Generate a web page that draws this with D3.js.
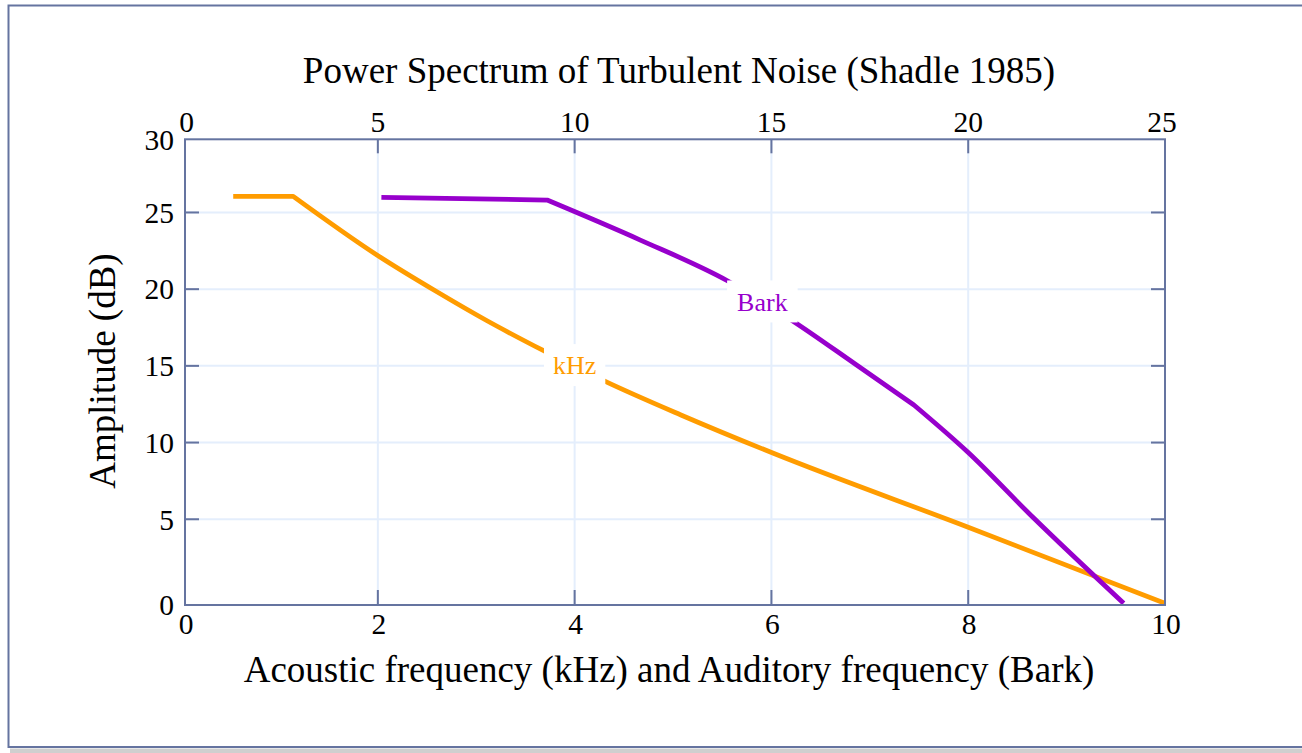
<!DOCTYPE html>
<html><head><meta charset="utf-8">
<script src="https://cdn.jsdelivr.net/npm/d3@7"></script>
<style>
body{margin:0;background:#fff}
svg{display:block}
text{font-family:"Liberation Serif","Times New Roman",serif;fill:#000}
</style>
</head><body>
<svg id="c" width="1302" height="753"></svg>
<script>
// ---- data ----
const kHzFreq = [0.53, 1.14, 1.99, 2.60, 3.11, 3.69, 4.30, 5.08, 6.02, 8.00, 10.0];
const kHzAmp  = [26.05, 26.05, 22.23, 19.83, 17.94, 15.97, 14.02, 11.80, 9.30, 4.48, -0.48];
const barkFreq = [5.09, 9.30, 11.67, 13.88, 15.57, 17.10, 18.62, 19.98, 21.67, 23.95];
const barkAmp  = [25.99, 25.81, 23.20, 20.55, 17.88, 15.17, 12.45, 9.40, 5.06, -0.48];
const bottomTicks = [0, 2, 4, 6, 8, 10];
const topTicks = [0, 5, 10, 15, 20, 25];
const yTicks = [0, 5, 10, 15, 20, 25, 30];
const seriesNames = ["kHz", "Bark"];
const labelPosKHz = [4.0, 15.05];
const labelPosBark = [14.77, 19.2];
const titleText = "Power Spectrum of Turbulent Noise (Shadle 1985)";
const xTitle = "Acoustic frequency (kHz) and Auditory frequency (Bark)";
const yTitle = "Amplitude (dB)";

// ---- layout ----
const L = 185, R = 1165, T = 139.3, B = 605;
const frameColor = "#6574a0", gridColor = "#e4eefc";
const orange = "#ff9c00", purple = "#9700cc";

const svg = d3.select("#c");
const x = d3.scaleLinear().domain([0.04, 10]).range([L, R]).clamp(true);
const xb = d3.scaleLinear().domain([0.1, 25]).range([L, R]).clamp(true);
const y = d3.scaleLinear().domain([-0.59, 29.77]).range([B, T]).clamp(true);

// outer panel
svg.append("rect").attr("x", 10).attr("y", 748.5).attr("width", 1302).attr("height", 6).attr("fill", "#cfcfcf");
svg.append("rect").attr("x", 8.5).attr("y", 5.5).attr("width", 1310).attr("height", 741.5)
  .attr("fill", "#fff").attr("stroke", frameColor).attr("stroke-width", 2);

// gridlines
const g = svg.append("g");
g.selectAll(".vg").data(bottomTicks.slice(1, -1)).enter().append("line")
  .attr("x1", d => x(d)).attr("x2", d => x(d)).attr("y1", T).attr("y2", B)
  .attr("stroke", gridColor).attr("stroke-width", 2);
g.selectAll(".hg").data(yTicks.slice(1, -1)).enter().append("line")
  .attr("y1", d => y(d)).attr("y2", d => y(d)).attr("x1", L).attr("x2", R)
  .attr("stroke", gridColor).attr("stroke-width", 2);

// clip
svg.append("clipPath").attr("id", "pc").append("rect")
  .attr("x", L).attr("y", T).attr("width", R - L).attr("height", B - T);

const lin = d3.line().x(d => d[0]).y(d => d[1]);
const smooth = d3.line().x(d => d[0]).y(d => d[1]).curve(d3.curveMonotoneX);
const kPts = kHzFreq.map((f, i) => [x(f), y(kHzAmp[i])]);
const bPts = barkFreq.map((f, i) => [xb(f), y(barkAmp[i])]);
const plot = svg.append("g").attr("clip-path", "url(#pc)");
// sharp knees, smooth segments between them
plot.append("path").attr("d", lin(kPts.slice(0, 2)) + smooth(kPts.slice(1)).replace(/^M/, "L"))
  .attr("fill", "none").attr("stroke", orange).attr("stroke-width", 4.8).attr("stroke-linejoin", "round");
plot.append("path").attr("d", lin(bPts.slice(0, 2)) + smooth(bPts.slice(1, 7)).replace(/^M/, "L") + smooth(bPts.slice(6)).replace(/^M/, "L"))
  .attr("fill", "none").attr("stroke", purple).attr("stroke-width", 4.8).attr("stroke-linejoin", "round");

// in-plot labels
function tag(px, py, txt, col, padX) {
  const t = svg.append("text").attr("x", px).attr("y", py).attr("dy", "0.35em")
    .attr("text-anchor", "middle").style("font-size", "26px").style("fill", col).text(txt);
  const bb = t.node().getBBox();
  svg.insert("rect", () => t.node())
    .attr("x", bb.x - padX).attr("y", py - 21).attr("width", bb.width + 2 * padX).attr("height", 42)
    .attr("fill", "#fff");
}
tag(x(labelPosKHz[0]), y(labelPosKHz[1]), seriesNames[0], orange, 9);
tag(xb(labelPosBark[0]), y(labelPosBark[1]), seriesNames[1], purple, 10);

// frame
svg.append("rect").attr("x", L).attr("y", T).attr("width", R - L).attr("height", B - T)
  .attr("fill", "none").attr("stroke", frameColor).attr("stroke-width", 2);

// ticks
const tk = svg.append("g").attr("stroke", frameColor).attr("stroke-width", 2);
bottomTicks.slice(1, -1).forEach(d => tk.append("line").attr("x1", x(d)).attr("x2", x(d)).attr("y1", B).attr("y2", B - 15));
topTicks.slice(1, -1).forEach(d => tk.append("line").attr("x1", xb(d)).attr("x2", xb(d)).attr("y1", T).attr("y2", T + 14));
yTicks.slice(1, -1).forEach(d => {
  tk.append("line").attr("x1", L).attr("x2", L + 14).attr("y1", y(d)).attr("y2", y(d));
  tk.append("line").attr("x1", R).attr("x2", R - 14).attr("y1", y(d)).attr("y2", y(d));
});

// tick labels
const fs = "29.5px";
svg.selectAll(".bl").data(bottomTicks).enter().append("text")
  .attr("x", d => x(d) + 1).attr("y", 634).attr("text-anchor", "middle").style("font-size", fs).text(d => d);
svg.selectAll(".tl").data(topTicks).enter().append("text")
  .attr("x", (d, i) => xb(d) + (i === 0 ? 1.5 : i === topTicks.length - 1 ? -3 : 0)).attr("y", 131.5)
  .attr("text-anchor", "middle").style("font-size", fs).text(d => d);
svg.selectAll(".ll").data(yTicks).enter().append("text")
  .attr("x", 174).attr("y", (d, i) => i === 0 ? B : y(d)).attr("dy", "0.35em")
  .attr("text-anchor", "end").style("font-size", fs).text(d => d);

// titles
svg.append("text").attr("x", 679).attr("y", 83).attr("text-anchor", "middle")
  .style("font-size", "37px").text(titleText);
svg.append("text").attr("x", 669).attr("y", 682).attr("text-anchor", "middle")
  .style("font-size", "37px").text(xTitle);
svg.append("text").attr("transform", "translate(115,371) rotate(-90)").attr("text-anchor", "middle")
  .style("font-size", "37px").text(yTitle);
</script>
</body></html>
